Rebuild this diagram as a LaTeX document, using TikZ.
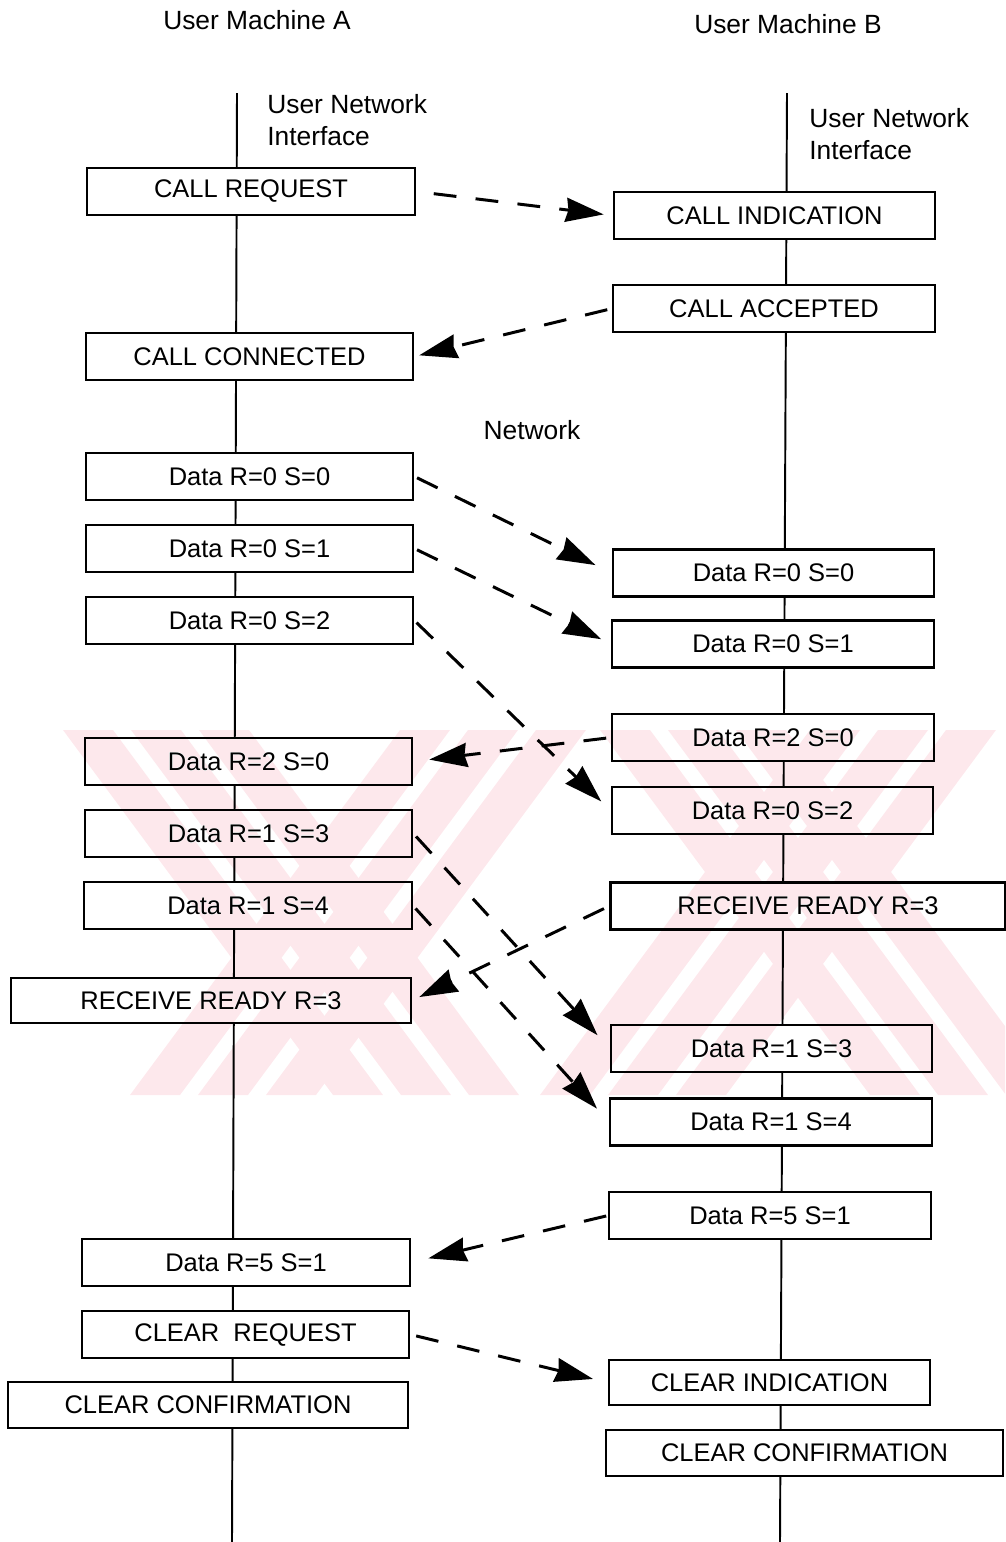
\documentclass[tikz,border=0pt]{standalone}
\usepackage{fontspec}
\setmainfont{Liberation Sans}
\usetikzlibrary{arrows.meta}
\definecolor{stamp}{RGB}{253,232,236}

\begin{document}
\begin{tikzpicture}[
    x=0.02cm, y=-0.02cm,
    box/.style={draw, line width=1.3pt, fill=white, inner sep=0pt,
        minimum height=0.94cm, font=\fontsize{14.5}{16}\selectfont},
    boxA/.style={box, minimum width=6.55cm},
    boxB/.style={box, minimum width=6.43cm},
    heading/.style={inner sep=0pt, font=\fontsize{15}{18}\selectfont},
    life/.style={line width=1.1pt},
    msg/.style={line width=1.7pt, dash pattern=on 13pt off 11pt,
        -{Stealth[length=0.76cm, width=0.48cm, inset=0.05cm]}}
]
  \useasboundingbox (0,0) rectangle (1005,1542);

  % titles
  \node[heading] (machA) at (257,20) {User Machine A};
  \node[heading] (machB) at (788,24) {User Machine B};
  \node[heading, anchor=west, align=left] (uniA) at (267,120) {User Network\\Interface};
  \node[heading, anchor=west, align=left] (uniB) at (809,134) {User Network\\Interface};
  \node[heading] (net) at (532,430) {Network};

  % lifelines
  \coordinate (aTop) at (237,93);
  \coordinate (aBot) at (232,1542);
  \coordinate (bTop) at (787,93);
  \coordinate (bBot) at (780,1542);
  \draw[life] (aTop) -- (aBot);
  \draw[life] (bTop) -- (bBot);

  % machine A
  \node[boxA] (aReq)  at (251,191.5)   {CALL REQUEST};
  \node[boxA] (aConn) at (249.5,356.5) {CALL CONNECTED};
  \node[boxA] (aD00)  at (249.5,476.5) {Data R=0 S=0};
  \node[boxA] (aD01)  at (249.5,548.5) {Data R=0 S=1};
  \node[boxA] (aD02)  at (249.5,620.5) {Data R=0 S=2};
  \node[boxA] (aD20)  at (248.5,761.5) {Data R=2 S=0};
  \node[boxA] (aD13)  at (248.5,833.5) {Data R=1 S=3};
  \node[boxA] (aD14)  at (248,905.5)   {Data R=1 S=4};
  \node[box, minimum width=8cm, minimum height=0.9cm] (aRR) at (211,1000.5) {RECEIVE READY R=3};
  \node[boxA] (aD51)  at (246,1262.5)  {Data R=5 S=1};
  \node[boxA] (aClr)  at (245.5,1334.5) {CLEAR~ REQUEST};
  \node[box, minimum width=8cm, minimum height=0.92cm] (aConf) at (208,1405) {CLEAR CONFIRMATION};

  % machine B
  \node[boxB] (bInd)  at (774.5,215.5) {CALL INDICATION};
  \node[boxB] (bAcc)  at (774,308.5)   {CALL ACCEPTED};
  \node[boxB] (bD00)  at (773.5,573)   {Data R=0 S=0};
  \node[boxB] (bD01)  at (773,644)     {Data R=0 S=1};
  \node[boxB] (bD20)  at (773,737.5)   {Data R=2 S=0};
  \node[boxB] (bD02)  at (772.5,810.5) {Data R=0 S=2};
  \node[box, minimum width=7.9cm] (bRR) at (808,906) {RECEIVE READY R=3};
  \node[boxB] (bD13)  at (771.5,1048.5) {Data R=1 S=3};
  \node[boxB] (bD14)  at (771,1122)    {Data R=1 S=4};
  \node[boxB] (bD51)  at (770,1215.5)  {Data R=5 S=1};
  \node[boxB, minimum height=0.9cm] (bClr) at (769.5,1382.5) {CLEAR INDICATION};
  \node[box, minimum width=7.94cm, minimum height=0.92cm] (bConf) at (804.5,1453) {CLEAR CONFIRMATION};

  % packets across the network
  \draw[msg, shorten <=0.36cm, shorten >=0.18cm] (aReq.east) -- (bInd.west);
  \draw[msg, shorten <=0.1cm, shorten >=0.1cm] (bAcc.west) -- (aConn.east);
  \draw[msg, shorten <=0.06cm, shorten >=0.36cm] (aD00.east) -- (bD00.west);
  \draw[msg, shorten <=0.06cm, shorten >=0.22cm] (aD01.east) -- (bD01.west);
  \draw[msg, shorten <=0.06cm, shorten >=0.26cm] (aD02.east) -- (bD02.west);
  \draw[msg, shorten <=0.1cm, shorten >=0.32cm] (bD20.west) -- (aD20.east);
  \draw[msg, shorten <=0.08cm, shorten >=0.36cm] (aD13.east) -- (bD13.west);
  \draw[msg, shorten <=0.08cm, shorten >=0.36cm] (aD14.east) -- (bD14.west);
  \draw[msg, shorten <=0.12cm, shorten >=0.16cm] (bRR.west) -- (aRR.east);
  \draw[msg, shorten <=0.04cm, shorten >=0.36cm] (bD51.west) -- (aD51.east);
  \draw[msg, shorten <=0.12cm, shorten >=0.3cm] (aClr.east) -- (bClr.west);

  % faint stamp behind the middle part
  \begin{scope}[blend mode=darken]
    \clip (63,730) rectangle (1005,1095);
    \foreach \o in {0,68,136} {
      \fill[stamp] (63+\o,730) -- (113+\o,730) -- (383+\o,1095) -- (333+\o,1095) -- cycle;
      \fill[stamp] (130+\o,1095) -- (180+\o,1095) -- (450+\o,730) -- (400+\o,730) -- cycle;
      \fill[stamp] (540+\o,1095) -- (590+\o,1095) -- (860+\o,730) -- (810+\o,730) -- cycle;
      \fill[stamp] (600+\o,730) -- (650+\o,730) -- (920+\o,1095) -- (870+\o,1095) -- cycle;
    }
  \end{scope}
\end{tikzpicture}
\end{document}
